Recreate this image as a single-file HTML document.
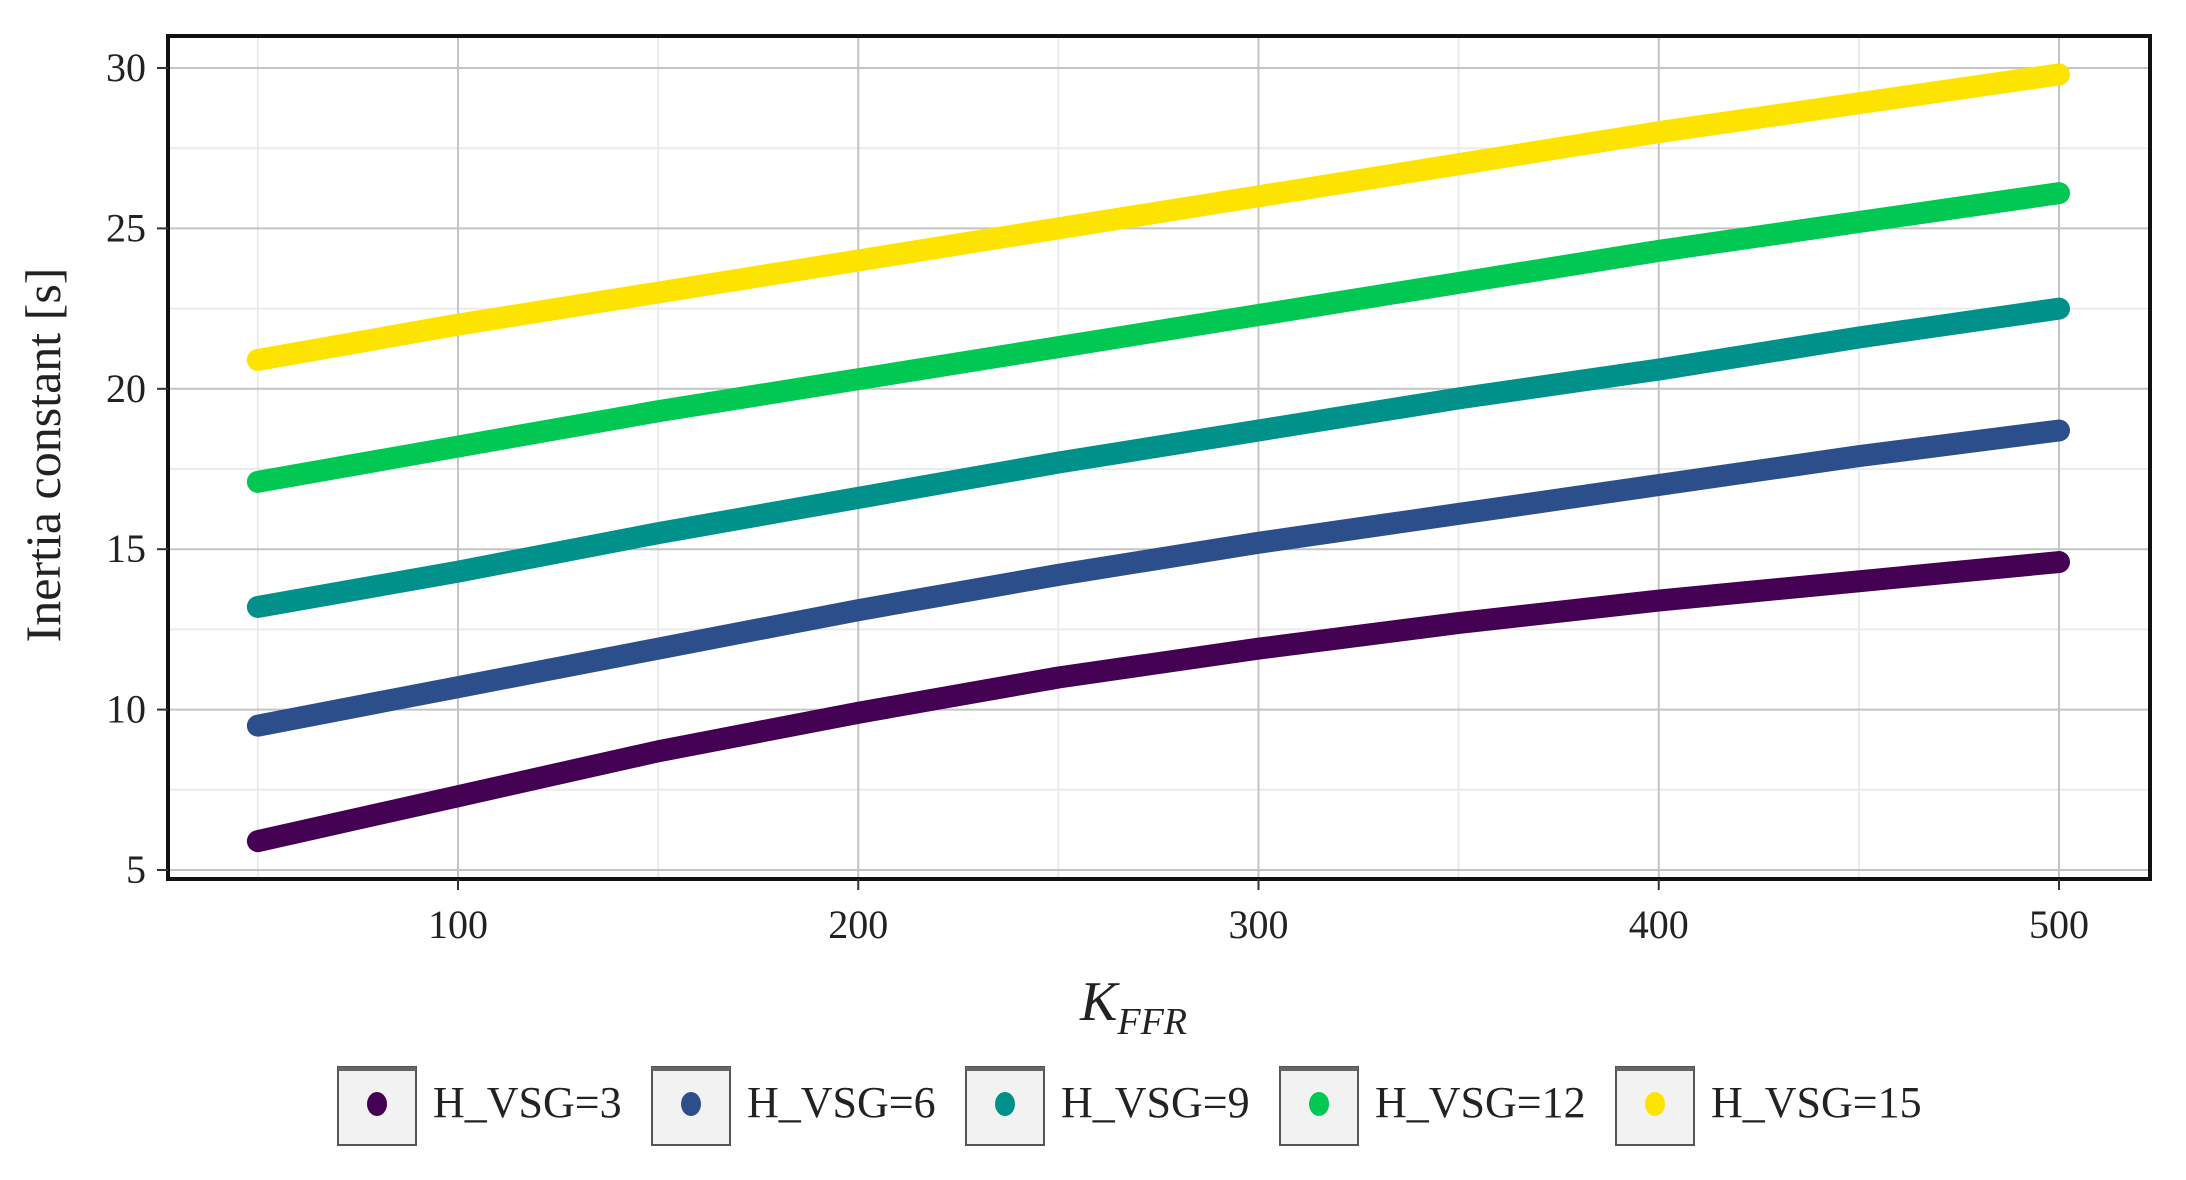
<!DOCTYPE html>
<html><head><meta charset="utf-8"><style>
body{margin:0;background:#fff;}
svg text{font-family:"Liberation Serif",serif;fill:#222;}
</style></head><body>
<svg id="chart" width="2186" height="1175" xmlns="http://www.w3.org/2000/svg">
<g id="grid"></g>
<g id="series"></g>
<rect x="168" y="36" width="1982" height="843" fill="none" stroke="#111" stroke-width="4"/>
<g id="axes"></g>
<text transform="translate(60,455) rotate(-90)" text-anchor="middle" font-size="50">Inertia constant [s]</text>
<text x="1080" y="1020" font-size="56" font-style="italic">K<tspan font-size="38" dy="14">FFR</tspan></text>
<g id="legend"></g>
</svg>
<script>
const xValues=[50,100,150,200,250,300,350,400,450,500];
const seriesNames=["H_VSG=3","H_VSG=6","H_VSG=9","H_VSG=12","H_VSG=15"];
const seriesColors=["#440154","#2c4f8c","#00928a","#00c853","#fde400"];
const h3=[5.9,7.3,8.7,9.9,11.0,11.9,12.7,13.4,14.0,14.6];
const h6=[9.5,10.7,11.9,13.1,14.2,15.2,16.1,17.0,17.9,18.7];
const h9=[13.2,14.3,15.5,16.6,17.7,18.7,19.7,20.6,21.6,22.5];
const h12=[17.1,18.2,19.3,20.3,21.3,22.3,23.3,24.3,25.2,26.1];
const h15=[20.9,22.0,23.0,24.0,25.0,26.0,27.0,28.0,28.9,29.8];
const xTicks=[100,200,300,400,500];
const yTicks=[5,10,15,20,25,30];
const allSeries=[h3,h6,h9,h12,h15];
const NS="http://www.w3.org/2000/svg";
function X(v){return 458+(v-100)*(2059-458)/400;}
function Y(v){return 870-(v-5)*(870-68)/25;}
function mk(tag,attrs,parent){const e=document.createElementNS(NS,tag);for(const k in attrs)e.setAttribute(k,attrs[k]);parent.appendChild(e);return e;}
const grid=document.getElementById('grid'),axes=document.getElementById('axes'),ser=document.getElementById('series'),leg=document.getElementById('legend');
for(let v=50;v<=550;v+=100){const l=mk('line',{x1:X(v),x2:X(v),y1:36,y2:879,stroke:'#ebebeb','stroke-width':2},grid);

}
for(let v=7.5;v<=30;v+=5){const l=mk('line',{x1:168,x2:2150,y1:Y(v),y2:Y(v),stroke:'#ebebeb','stroke-width':2},grid);

}
xTicks.forEach(v=>{const l=mk('line',{x1:X(v),x2:X(v),y1:36,y2:879,stroke:'#c4c4c4','stroke-width':2},grid);


const t=mk('line',{x1:X(v),x2:X(v),y1:879,y2:890,stroke:'#333','stroke-width':2},axes);


const tx=mk('text',{x:X(v),y:938,'text-anchor':'middle','font-size':40},axes);tx.textContent=v;

});
yTicks.forEach(v=>{const l=mk('line',{x1:168,x2:2150,y1:Y(v),y2:Y(v),stroke:'#c4c4c4','stroke-width':2},grid);


const t=mk('line',{x1:157,x2:168,y1:Y(v),y2:Y(v),stroke:'#333','stroke-width':2},axes);


const tx=mk('text',{x:146,y:Y(v)+13,'text-anchor':'end','font-size':40},axes);tx.textContent=v;

});
allSeries.forEach((s,i)=>{const d=s.map((v,j)=>(j?'L':'M')+X(xValues[j])+','+Y(v)).join(' ');
const p=mk('path',{d:d,fill:'none',stroke:seriesColors[i],'stroke-width':22,'stroke-linecap':'round','stroke-linejoin':'round'},ser);

});
const legX=[338,652,966,1280,1616];
seriesNames.forEach((n,i)=>{const g=mk('g',{},leg);


mk('rect',{x:legX[i],y:1067,width:78,height:78,fill:'#f2f2f2',stroke:'#555','stroke-width':2},g);
mk('line',{x1:legX[i],x2:legX[i]+78,y1:1069,y2:1069,stroke:'#666','stroke-width':4},g);
mk('ellipse',{cx:legX[i]+39,cy:1104,rx:10,ry:12,fill:seriesColors[i]},g);
const t=mk('text',{x:legX[i]+95,y:1117,'font-size':44},g);t.textContent=n;

});
</script>
</body></html>
